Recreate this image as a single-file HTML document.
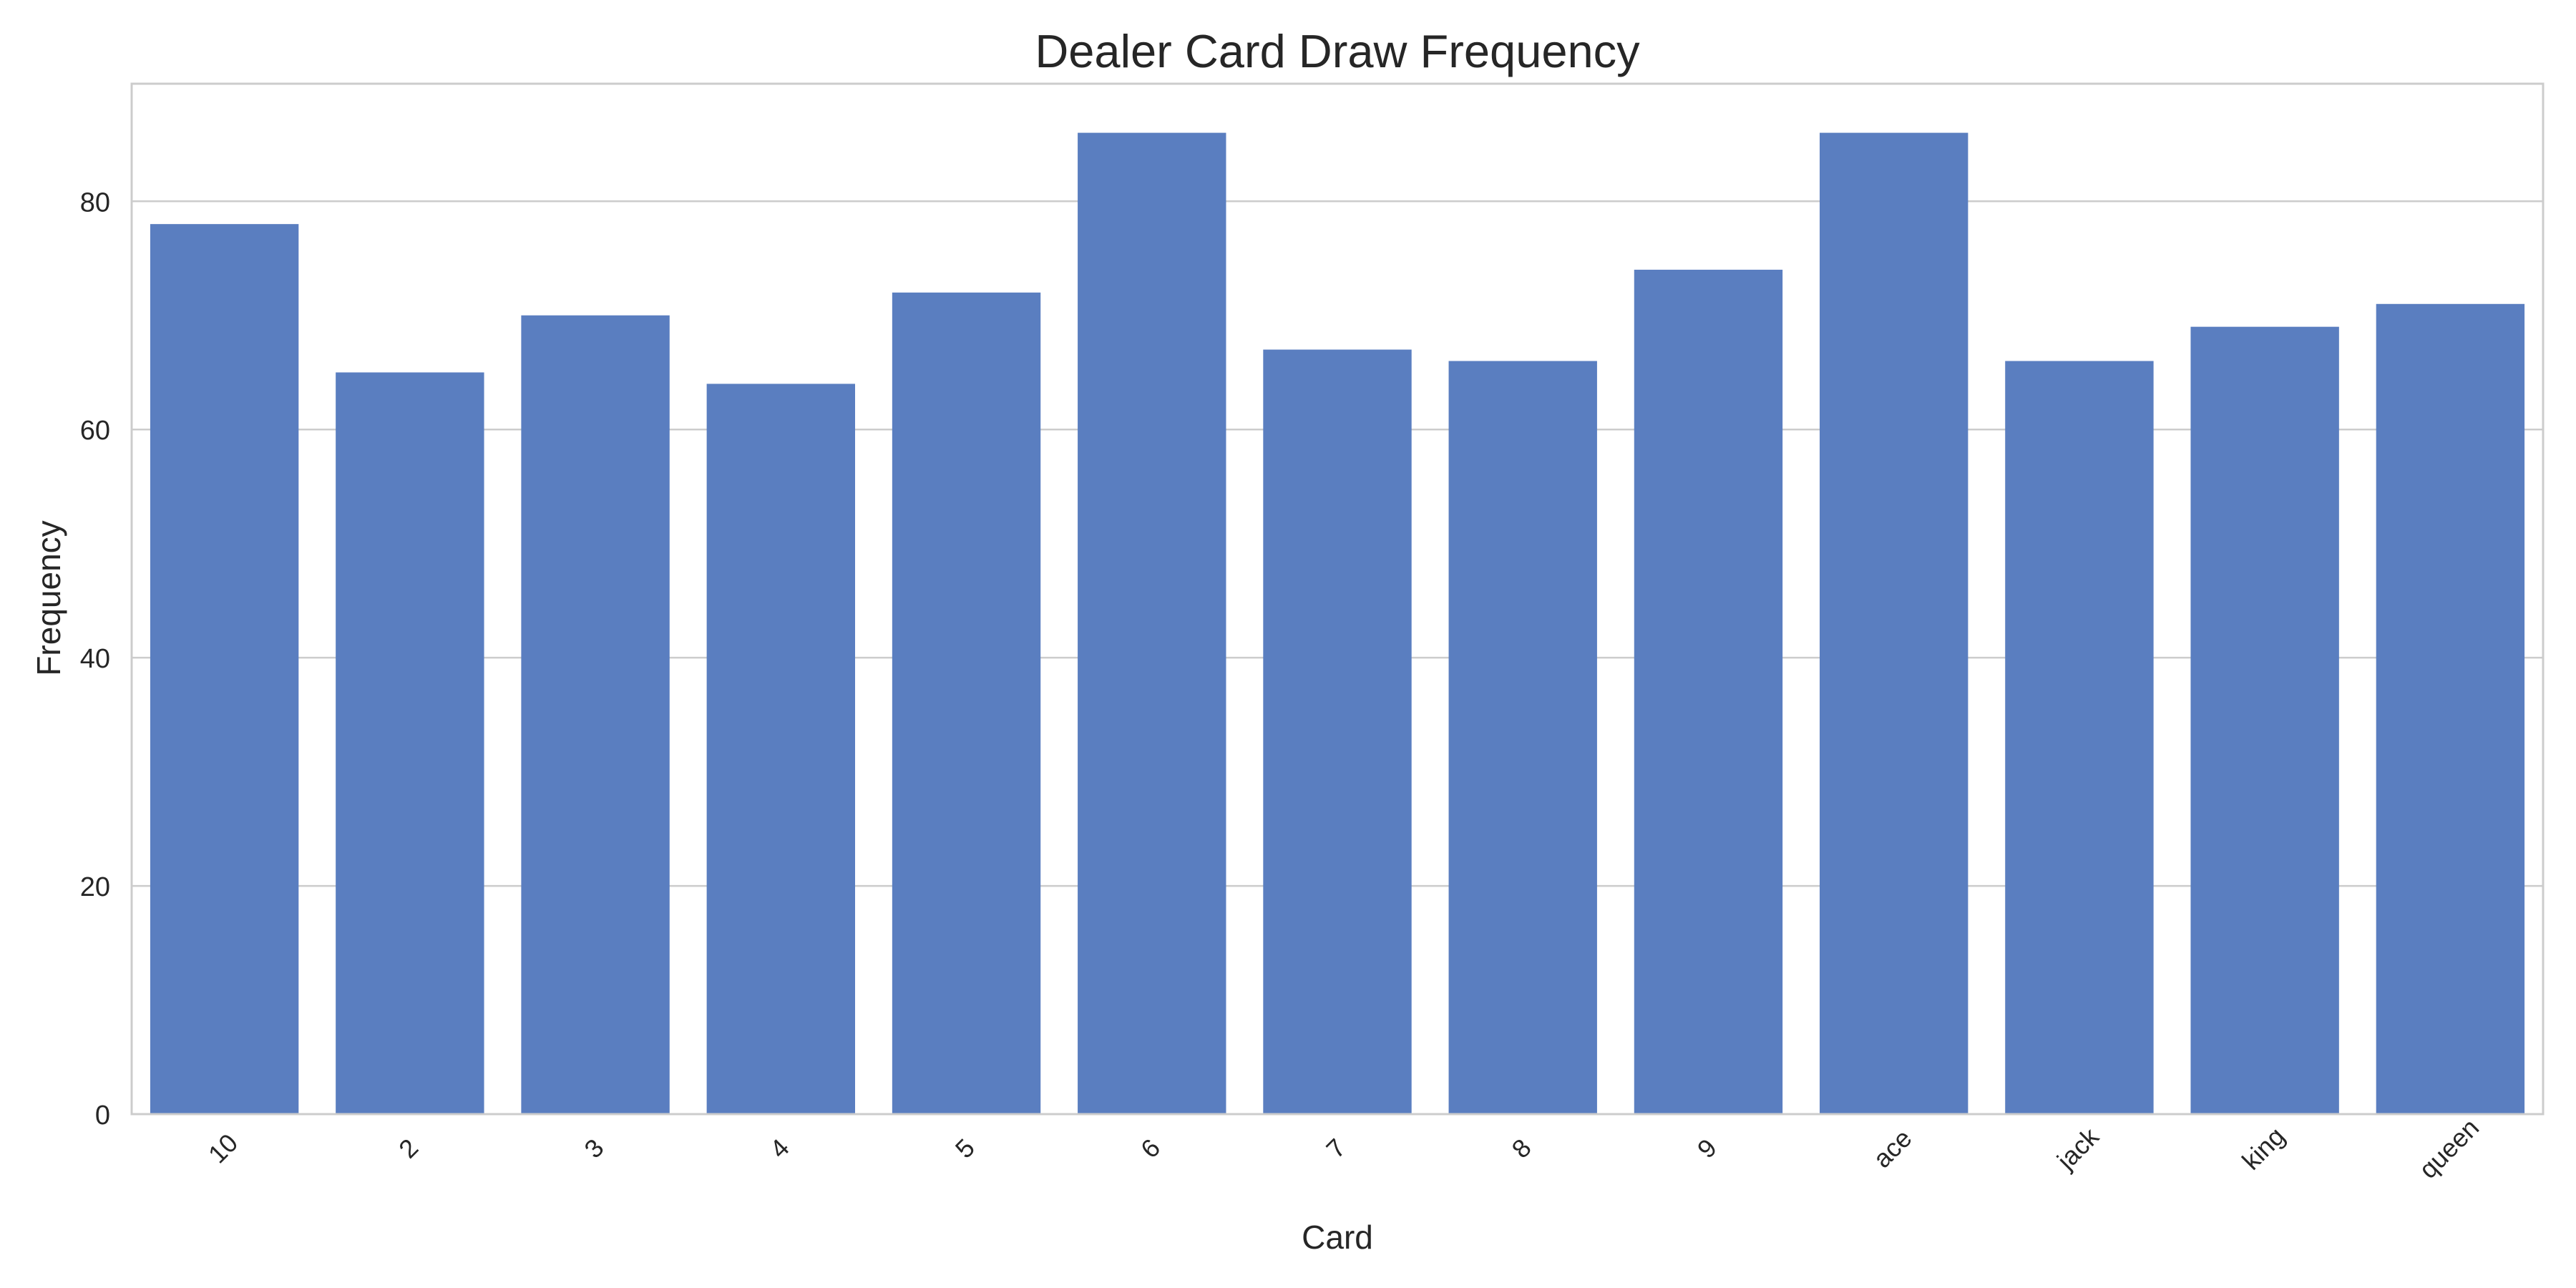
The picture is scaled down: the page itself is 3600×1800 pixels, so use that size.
<!DOCTYPE html>
<html><head><meta charset="utf-8"><style>
body{margin:0;background:#fff}
svg{display:block;font-family:"Liberation Sans",Arial,sans-serif}
</style></head><body>
<svg id="chart" width="3600" height="1800" viewBox="0 0 3600 1800">
<rect width="3600" height="1800" fill="#fff"/>
<g id="grid"></g>
<g id="bars"></g>
<g id="axes"></g>
<text x="1869" y="94" font-size="65" text-anchor="middle" fill="#262626">Dealer Card Draw Frequency</text>
<text x="1869" y="1745" font-size="46" text-anchor="middle" fill="#262626">Card</text>
<text transform="translate(84,836) rotate(-90)" font-size="46" text-anchor="middle" fill="#262626">Frequency</text>
</svg>
<script>
const categories = ["10","2","3","4","5","6","7","8","9","ace","jack","king","queen"];
const frequencies = [78,65,70,64,72,86,67,66,74,86,66,69,71];
const yTicks = [0,20,40,60,80];
const yMax = 90.3;

const NS = "http://www.w3.org/2000/svg";
const L = 184, R = 3554, T = 117, B = 1557;
const band = (R - L) / categories.length;
function xPos(i){ return L + band * i; }
function yPos(v){ return B - (v / yMax) * (B - T); }
function mk(tag, attrs, parent){
  const e = document.createElementNS(NS, tag);
  for (const k in attrs) e.setAttribute(k, attrs[k]);
  parent.appendChild(e); return e;
}
const grid = document.getElementById("grid");
const bars = document.getElementById("bars");
const axes = document.getElementById("axes");

yTicks.forEach(t => {
  const y = yPos(t);
  const ln = mk("line", {x1:L, x2:R, y1:y, y2:y, stroke:"#cccccc", "stroke-width":2.5}, grid);
  
  
  const tx = mk("text", {x:L-30, y:y+14, "font-size":38, "text-anchor":"end", fill:"#262626"}, axes);
  tx.textContent = t;
  
  
});

categories.forEach((c, i) => {
  const w = band * 0.8;
  const x = xPos(i) + band * 0.1;
  const y = yPos(frequencies[i]);
  const r = mk("rect", {x:x, y:y, width:w, height:B - y, fill:"#5a7ec0"}, bars);
  
  
  const cx = xPos(i) + band / 2;
  const tx = mk("text", {transform:"translate(" + cx + ",1607) rotate(-45)", "font-size":36, "text-anchor":"middle", "dominant-baseline":"middle", fill:"#262626"}, axes);
  tx.textContent = c;
  
  
});

const frame = mk("rect", {x:L, y:T, width:R-L, height:B-T, fill:"none", stroke:"#cccccc", "stroke-width":3}, axes);


</script>
</body></html>
